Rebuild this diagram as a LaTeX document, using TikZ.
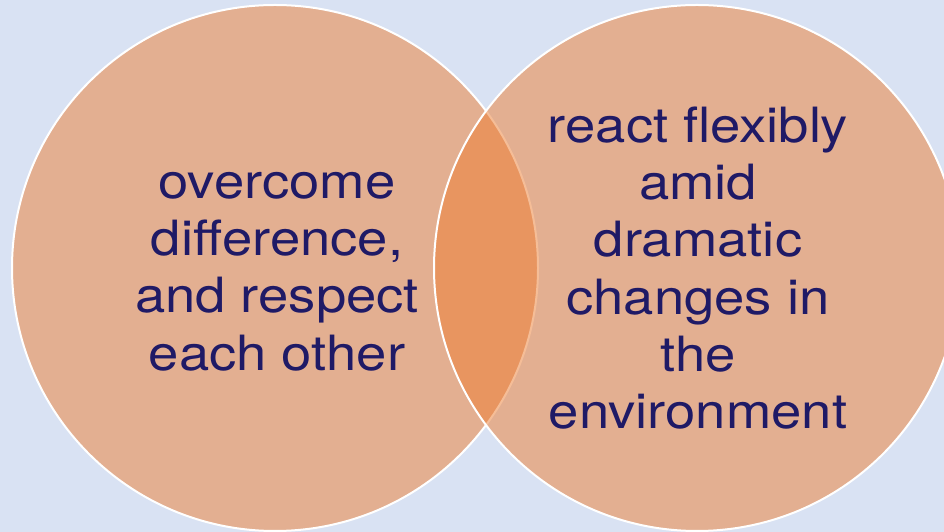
\documentclass[tikz,border=0pt]{standalone}
\usepackage{fontspec}
\setmainfont{TeX Gyre Heros}[FakeStretch=1.12]
\usepackage{tikz}
\usetikzlibrary{positioning}
\definecolor{pagebg}{HTML}{D9E2F3}
\definecolor{setfill}{HTML}{ED7D31}
\definecolor{settext}{HTML}{1F1A66}

\begin{document}
\begin{tikzpicture}[
		x=1pt, y=1pt,
		setcircle/.style={circle, draw=white, line width=2pt, fill=setfill, fill opacity=0.5, minimum size=526pt, inner sep=0pt},
		setlabel/.style={align=center, text=settext, text opacity=1, font=\fontsize{48.6}{57.3}\selectfont}
		]
		
		\useasboundingbox (0,0) rectangle (944,532);
		\clip (0,0) rectangle (944,532);
		\fill[pagebg] (0,0) rectangle (944,532);
		
		% the two sets
		\node[setcircle] (leftset) at (275,264) {};
		\node[setcircle] (rightset) at (697,264) {};
		
		\node[setlabel] (lefttext) at ([xshift=2pt, yshift=-3.5pt]leftset.center) {overcome\\ difference,\\ and respect\\ each other};
		\node[setlabel] (righttext) at ([xshift=1pt]rightset.center) {react flexibly\\ amid\\ dramatic\\ changes in\\ the\\ environment};
		
	\end{tikzpicture}
\end{document}
